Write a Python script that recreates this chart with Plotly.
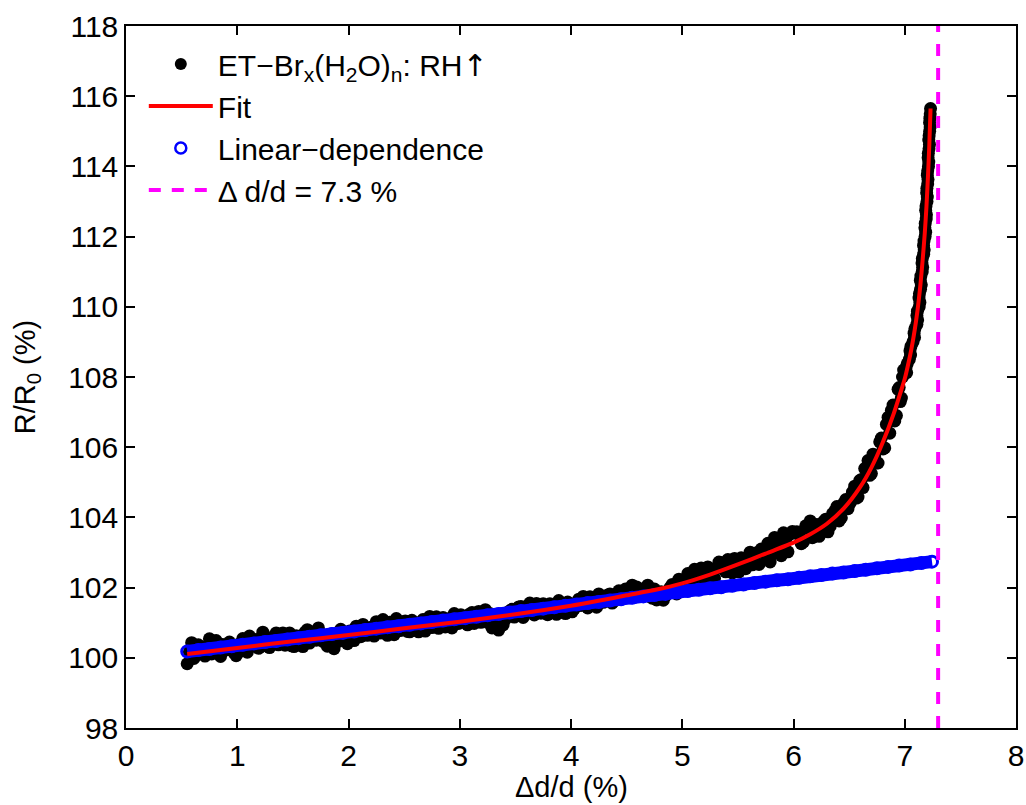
import plotly.graph_objects as go

# ---------------- data ----------------
# measured points (black dots), first sweep
black_x = [
    0.55, 0.59, 0.63, 0.67, 0.71, 0.75, 0.79, 0.83, 0.87, 0.91,
    0.95, 0.99, 1.03, 1.07, 1.11, 1.15, 1.19, 1.23, 1.27, 1.31,
    1.35, 1.39, 1.43, 1.47, 1.51, 1.55, 1.59, 1.63, 1.67, 1.71,
    1.75, 1.79, 1.83, 1.87, 1.91, 1.95, 1.99, 2.03, 2.07, 2.11,
    2.15, 2.19, 2.23, 2.27, 2.31, 2.35, 2.39, 2.43, 2.47, 2.51,
    2.55, 2.59, 2.63, 2.67, 2.71, 2.75, 2.79, 2.83, 2.87, 2.91,
    2.95, 2.99, 3.03, 3.07, 3.11, 3.15, 3.19, 3.23, 3.27, 3.31,
    3.35, 3.39, 3.43, 3.47, 3.51, 3.55, 3.59, 3.63, 3.67, 3.71,
    3.75, 3.79, 3.83, 3.87, 3.91, 3.95, 3.99, 4.03, 4.07, 4.11,
    4.15, 4.19, 4.23, 4.27, 4.31, 4.35, 4.39, 4.43, 4.47, 4.51,
    4.55, 4.59, 4.63, 4.67, 4.71, 4.75, 4.79, 4.83, 4.87, 4.91,
    4.95, 4.99, 5.03, 5.07, 5.11, 5.15, 5.19, 5.23, 5.27, 5.31,
    5.35, 5.39, 5.43, 5.47, 5.51, 5.55, 5.59, 5.63, 5.67, 5.71,
    5.75, 5.79, 5.83, 5.87, 5.91, 5.95, 5.99,
    6.03, 6.07, 6.11, 6.15, 6.19, 6.23, 6.27, 6.31, 6.35, 6.39,
    6.43, 6.47, 6.51, 6.55, 6.58, 6.61, 6.64, 6.67, 6.70, 6.73,
    6.76, 6.79, 6.82, 6.85, 6.88, 6.91, 6.94, 6.96, 6.98,
    7.010, 7.041, 7.047, 7.074, 7.084, 7.109, 7.109, 7.130, 7.128, 7.142,
    7.140, 7.157, 7.155, 7.170, 7.169, 7.183, 7.181, 7.193, 7.188, 7.200,
    7.197, 7.206, 7.203, 7.213, 7.210, 7.218, 7.216, 7.224, 7.223, 7.229,
    7.232,
]
black_y = [
    99.83, 100.43, 100.09, 100.28, 100.05, 100.54, 100.25, 100.12, 100.38, 100.23,
    100.34, 100.06, 100.19, 100.41, 100.62, 100.39, 100.27, 100.73, 100.53, 100.38,
    100.71, 100.53, 100.36, 100.71, 100.32, 100.54, 100.32, 100.80, 100.63, 100.50,
    100.68, 100.63, 100.39, 100.26, 100.47, 100.74, 100.40, 100.72, 100.90, 100.60,
    100.86, 100.73, 100.62, 100.96, 101.09, 100.64, 100.90, 101.12, 100.78, 101.05,
    100.74, 100.93, 100.74, 101.09, 100.97, 100.86, 101.17, 100.97, 100.88, 101.12,
    101.26, 100.98, 101.12, 100.94, 101.29, 101.14, 101.01, 101.37, 101.26, 100.96,
    100.79, 100.94, 101.26, 101.38, 101.20, 101.46, 101.28, 101.56, 101.22, 101.44,
    101.54, 101.23, 101.45, 101.24, 101.54, 101.26, 101.53, 101.40, 101.67, 101.75,
    101.42, 101.65, 101.44, 101.75, 101.67, 101.82, 101.62, 101.91, 101.82, 101.75,
    102.07, 102.02, 101.81, 101.93, 101.75, 101.96, 101.71, 101.64, 101.83, 102.09,
    101.82, 102.14, 102.23, 102.00, 102.52, 102.41, 102.16, 102.59, 102.15, 102.55,
    102.71, 102.45, 102.72, 102.83, 102.45, 102.72, 102.87, 102.65, 102.99, 103.10,
    102.93, 102.73, 103.43, 103.33, 103.56, 103.02, 103.60,
    103.59, 103.25, 103.76, 103.90, 103.64, 103.46, 103.88, 103.59, 104.10, 104.31,
    103.99, 104.51, 104.41, 104.89, 104.58, 105.08, 105.39, 105.62, 105.25, 105.75,
    105.55, 106.26, 105.98, 106.85, 107.05, 106.75, 107.65, 107.30, 108.00,
    108.25, 108.50, 108.75, 109.00, 109.25, 109.50, 109.75, 110.00, 110.25, 110.50,
    110.75, 111.00, 111.25, 111.50, 111.75, 112.00, 112.25, 112.50, 112.75, 113.00,
    113.25, 113.50, 113.75, 114.00, 114.25, 114.50, 114.75, 115.00, 115.25, 115.50,
    115.65,
]

# measured points (black dots), interleaved readings
black2_x = [
    0.57, 0.61, 0.65, 0.69, 0.73, 0.77, 0.81, 0.85, 0.89, 0.93,
    0.97, 1.01, 1.05, 1.09, 1.13, 1.17, 1.21, 1.25, 1.29, 1.33,
    1.37, 1.41, 1.45, 1.49, 1.53, 1.57, 1.61, 1.65, 1.69, 1.73,
    1.77, 1.81, 1.85, 1.89, 1.93, 1.97, 2.01, 2.05, 2.09, 2.13,
    2.17, 2.21, 2.25, 2.29, 2.33, 2.37, 2.41, 2.45, 2.49, 2.53,
    2.57, 2.61, 2.65, 2.69, 2.73, 2.77, 2.81, 2.85, 2.89, 2.93,
    2.97, 3.01, 3.05, 3.09, 3.13, 3.17, 3.21, 3.25, 3.29, 3.33,
    3.37, 3.41, 3.45, 3.49, 3.53, 3.57, 3.61, 3.65, 3.69, 3.73,
    3.77, 3.81, 3.85, 3.89, 3.93, 3.97, 4.01, 4.05, 4.09, 4.13,
    4.17, 4.21, 4.25, 4.29, 4.33, 4.37, 4.41, 4.45, 4.49, 4.53,
    4.57, 4.61, 4.65, 4.69, 4.73, 4.77, 4.81, 4.85, 4.89, 4.93,
    4.97, 5.01, 5.05, 5.09, 5.13, 5.17, 5.21, 5.25, 5.29, 5.33,
    5.37, 5.41, 5.45, 5.49, 5.53, 5.57, 5.61, 5.65, 5.69, 5.73,
    5.77, 5.81, 5.85, 5.89, 5.93, 5.97,
    6.05, 6.09, 6.13, 6.17, 6.21, 6.25, 6.29, 6.33, 6.37, 6.41,
    6.45, 6.49, 6.53, 6.565, 6.595, 6.625, 6.655, 6.685, 6.715, 6.745,
    6.775, 6.805, 6.835, 6.865, 6.895, 6.925, 6.95, 6.97, 6.99,
    7.017, 7.022, 7.052, 7.056, 7.088, 7.091, 7.116, 7.114, 7.136, 7.132,
    7.149, 7.145, 7.161, 7.158, 7.175, 7.173, 7.188, 7.184, 7.195, 7.191,
    7.203, 7.199, 7.209, 7.206, 7.216, 7.212, 7.222, 7.219, 7.228, 7.226,
]
black2_y = [
    100.17, 99.98, 100.37, 100.11, 100.33, 100.11, 100.49, 100.04, 100.29, 100.45,
    100.15, 100.38, 100.55, 100.16, 100.38, 100.52, 100.31, 100.47, 100.29, 100.62,
    100.37, 100.71, 100.57, 100.34, 100.63, 100.44, 100.73, 100.42, 100.74, 100.85,
    100.47, 100.33, 100.68, 100.46, 100.81, 100.59, 100.76, 100.49, 100.74, 100.95,
    100.64, 100.88, 101.03, 100.71, 100.88, 101.01, 100.66, 100.87, 101.02, 100.75,
    101.07, 100.83, 101.02, 100.76, 101.18, 101.04, 100.84, 101.15, 101.04, 100.85,
    101.12, 101.23, 101.00, 101.25, 100.98, 101.32, 101.20, 101.01, 100.85, 101.02,
    101.23, 101.10, 101.34, 101.16, 101.45, 101.15, 101.44, 101.36, 101.55, 101.27,
    101.42, 101.54, 101.29, 101.63, 101.40, 101.59, 101.31, 101.56, 101.49, 101.64,
    101.74, 101.49, 101.82, 101.58, 101.79, 101.56, 101.82, 101.68, 101.96, 101.86,
    101.73, 101.97, 101.82, 102.07, 101.70, 101.65, 101.88, 101.76, 102.00, 101.94,
    102.24, 102.06, 102.40, 102.20, 102.04, 102.56, 102.34, 102.53, 102.26, 102.73,
    102.53, 102.80, 102.42, 102.76, 102.85, 102.54, 103.01, 102.77, 102.66, 103.08,
    103.26, 102.96, 103.16, 102.91, 103.36, 103.52,
    103.50, 103.30, 103.68, 103.42, 103.80, 103.62, 103.95, 103.75, 104.18, 103.90,
    104.40, 104.25, 104.72, 104.55, 105.05, 104.85, 105.40, 105.20, 105.80, 105.55,
    106.15, 105.95, 106.65, 106.40, 107.20, 106.90, 107.70, 107.40, 108.20,
    108.125, 108.375, 108.625, 108.875, 109.125, 109.375, 109.625, 109.875, 110.125, 110.375,
    110.625, 110.875, 111.125, 111.375, 111.625, 111.875, 112.125, 112.375, 112.625, 112.875,
    113.125, 113.375, 113.625, 113.875, 114.125, 114.375, 114.625, 114.875, 115.125, 115.375,
]

# fit curve (red)
fit_x = [0.55, 1.0, 1.5, 2.0, 2.5, 3.0, 3.5, 4.0, 4.26, 4.5, 4.75, 5.0, 5.25,
         5.5, 5.75, 6.0, 6.15, 6.3, 6.45, 6.6, 6.7, 6.8, 6.9, 6.96, 7.0, 7.03,
         7.06, 7.09, 7.115, 7.14, 7.16, 7.18, 7.195, 7.21, 7.22, 7.232]
fit_y = [100.11, 100.28, 100.47, 100.65, 100.84, 101.03, 101.24, 101.48, 101.63,
         101.78, 101.93, 102.12, 102.37, 102.66, 102.97, 103.28, 103.52, 103.82,
         104.25, 104.87, 105.42, 106.12, 106.95, 107.54, 107.95, 108.35, 108.80,
         109.35, 109.90, 110.60, 111.30, 112.10, 112.85, 113.80, 114.55, 115.65]

# linear dependence (blue open circles)
lin_x = [0.55, 0.65, 0.75, 0.85, 0.95, 1.05, 1.15, 1.25, 1.35, 1.45, 1.55, 1.65,
         1.75, 1.85, 1.95, 2.05, 2.15, 2.25, 2.35, 2.45, 2.55, 2.65, 2.75, 2.85,
         2.95, 3.05, 3.15, 3.25, 3.35, 3.45, 3.55, 3.65, 3.75, 3.85, 3.95, 4.05,
         4.15, 4.25, 4.35, 4.45, 4.55, 4.65, 4.75, 4.85, 4.95, 5.05, 5.15, 5.25,
         5.35, 5.45, 5.55, 5.65, 5.75, 5.85, 5.95, 6.05, 6.15, 6.25, 6.35, 6.45,
         6.55, 6.65, 6.75, 6.85, 6.95, 7.05, 7.15, 7.245]
lin_y = [100.18, 100.22, 100.25, 100.29, 100.33, 100.37, 100.41, 100.45, 100.48,
         100.52, 100.56, 100.60, 100.64, 100.68, 100.71, 100.75, 100.79, 100.83,
         100.87, 100.90, 100.94, 100.98, 101.02, 101.06, 101.10, 101.13, 101.17,
         101.21, 101.25, 101.29, 101.33, 101.36, 101.40, 101.44, 101.48, 101.52,
         101.56, 101.59, 101.63, 101.67, 101.71, 101.75, 101.79, 101.82, 101.86,
         101.90, 101.94, 101.98, 102.01, 102.05, 102.09, 102.13, 102.17, 102.21,
         102.24, 102.28, 102.32, 102.36, 102.40, 102.43, 102.47, 102.51, 102.55,
         102.59, 102.63, 102.66, 102.70, 102.74]

# critical strain (magenta dashed)
crit_x = [7.3, 7.3]
crit_y = [98, 118]

x_ticks = [0, 1, 2, 3, 4, 5, 6, 7, 8]
y_ticks = [98, 100, 102, 104, 106, 108, 110, 112, 114, 116, 118]

names = ["ET\u2212Br<sub>x</sub>(H<sub>2</sub>O)<sub>n</sub>: RH"
         "<span style=\"font-family:'DejaVu Sans'\">\u2191</span>",
         "Fit", "Linear\u2212dependence", "\u0394 d/d = 7.3 %"]
x_title = "\u0394d/d (%)"
y_title = "R/R<sub>0</sub> (%)"

FONT = "Liberation Sans, Arial, Helvetica, sans-serif"
BLUE = "#0000ff"
RED = "#ff0000"
MAG = "#ff00ff"

fig = go.Figure()

fig.add_trace(go.Scatter(x=black_x, y=black_y, mode="markers",
                         marker=dict(size=13, color="black"), showlegend=False))
fig.add_trace(go.Scatter(x=black2_x, y=black2_y, mode="markers",
                         marker=dict(size=13, color="black"), showlegend=False))
fig.add_trace(go.Scatter(x=lin_x, y=lin_y, mode="lines+markers",
                         line=dict(color=BLUE, width=13),
                         marker=dict(symbol="circle-open", size=11, color=BLUE,
                                     line=dict(width=3, color=BLUE)),
                         showlegend=False))
fig.add_trace(go.Scatter(x=fit_x, y=fit_y, mode="lines",
                         line=dict(color=RED, width=4, shape="spline", smoothing=0.6),
                         showlegend=False))
fig.add_trace(go.Scatter(x=crit_x, y=crit_y, mode="lines",
                         line=dict(color=MAG, width=4, dash="12px,12px"),
                         showlegend=False))

# legend entries
fig.add_trace(go.Scatter(x=[None], y=[None], mode="markers", name=names[0],
                         marker=dict(size=12, color="black")))
fig.add_trace(go.Scatter(x=[None], y=[None], mode="lines", name=names[1],
                         line=dict(color=RED, width=4)))
fig.add_trace(go.Scatter(x=[None], y=[None], mode="markers", name=names[2],
                         marker=dict(symbol="circle-open", size=11, color=BLUE,
                                     line=dict(width=2.5, color=BLUE))))
fig.add_trace(go.Scatter(x=[None], y=[None], mode="lines", name=names[3],
                         line=dict(color=MAG, width=4, dash="12px,11px")))

axis_common = dict(
    showline=True, linecolor="black", linewidth=1.5, mirror="ticks",
    ticks="inside", ticklen=9, tickwidth=1.5, tickcolor="black",
    showgrid=False, zeroline=False, automargin=False,
    tickfont=dict(family=FONT, size=30, color="black"),
)

fig.update_layout(
    width=1026, height=805,
    margin=dict(l=126, r=10, t=26, b=77),
    paper_bgcolor="white", plot_bgcolor="white",
    font=dict(family=FONT, size=30, color="black"),
    xaxis=dict(range=[0, 8], tickvals=x_ticks, **axis_common),
    yaxis=dict(range=[98, 118], tickvals=y_ticks,
               title=dict(text=y_title, standoff=24,
                          font=dict(family=FONT, size=29)),
               **axis_common),
    legend=dict(x=0.02, y=0.983, xanchor="left", yanchor="top",
                bgcolor="rgba(0,0,0,0)", borderwidth=0,
                font=dict(family=FONT, size=30, color="black"),
                itemwidth=64, tracegroupgap=0),
    annotations=[dict(text=x_title, xref="paper", yref="paper",
                      x=0.5, y=-0.084, xanchor="center", yanchor="middle",
                      showarrow=False, font=dict(family=FONT, size=29, color="black"))],
)

fig.write_html("out.html",
               config={"displayModeBar": False},
               post_script="document.body.style.margin='0px';"
                           "document.body.style.padding='0px';")
